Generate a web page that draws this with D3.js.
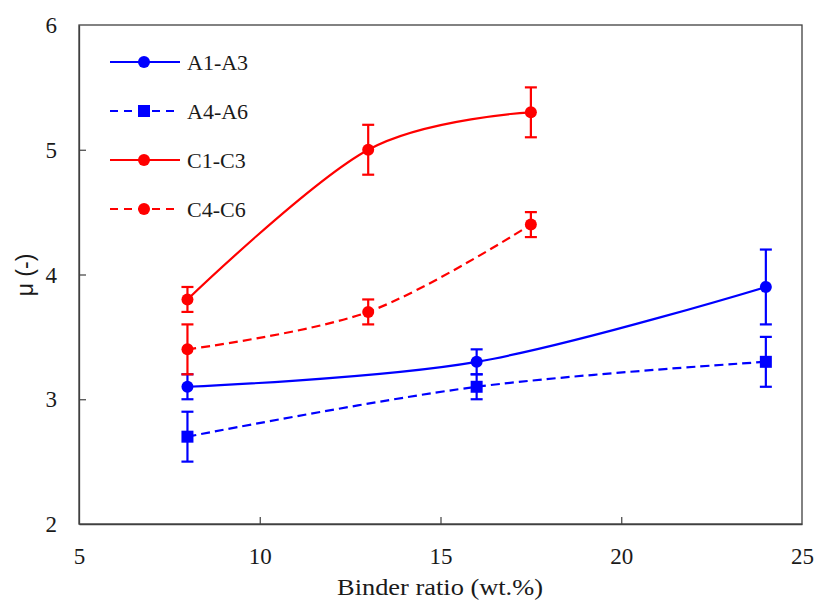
<!DOCTYPE html>
<html>
<head>
<meta charset="utf-8">
<script src="https://cdn.jsdelivr.net/npm/d3@7"></script>
<style>
body{margin:0;background:#fff;}
svg{display:block;}
.serif{font-family:"Liberation Serif","Times New Roman","DejaVu Serif",serif !important;}
</style>
</head>
<body>
<svg id="chart" width="818" height="605"></svg>
<script>
const xTicks = [5, 10, 15, 20, 25];
const yTicks = [2, 3, 4, 5, 6];
const seriesNames = ["A1-A3", "A4-A6", "C1-C3", "C4-C6"];
const seriesColors = ["#0000ff", "#0000ff", "#ff0000", "#ff0000"];
const seriesDashed = [false, true, false, true];
const seriesMarkers = ["circle", "square", "circle", "circle"];
const xA = [8, 16, 24];
const xC = [8, 13, 17.5];
const yA1 = [3.1, 3.3, 3.9];
const eA1 = [0.1, 0.1, 0.3];
const yA4 = [2.7, 3.1, 3.3];
const eA4 = [0.2, 0.1, 0.2];
const yC1 = [3.8, 5.0, 5.3];
const eC1 = [0.1, 0.2, 0.2];
const yC4 = [3.4, 3.7, 4.4];
const eC4 = [0.2, 0.1, 0.1];

const seriesX = [xA, xA, xC, xC];
const seriesY = [yA1, yA4, yC1, yC4];
const seriesE = [eA1, eA4, eC1, eC4];

const svg = d3.select("#chart");
const mL = 79, mR = 802, mT = 25, mB = 524;
const x = d3.scaleLinear().domain([5, 25]).range([mL, mR]);
const y = d3.scaleLinear().domain([2, 6]).range([mB, mT]);

// frame
svg.append("rect").attr("x", mL).attr("y", mT).attr("width", mR - mL).attr("height", mB - mT)
  .attr("fill", "none").attr("stroke", "#404040").attr("stroke-width", 1.3);

// axes
const xAxis = svg.append("g").attr("transform", `translate(0,${mB})`)
  .call(d3.axisBottom(x).tickValues(xTicks).tickSizeInner(-7).tickSizeOuter(0).tickPadding(20).tickFormat(d3.format("d")));
const yAxis = svg.append("g").attr("transform", `translate(${mL},0)`)
  .call(d3.axisLeft(y).tickValues(yTicks).tickSizeInner(-7).tickSizeOuter(0).tickPadding(20).tickFormat(d3.format("d")));
[xAxis, yAxis].forEach(g => {
  g.attr("font-family", null).attr("font-size", null);
  g.select(".domain").attr("stroke", "#404040").attr("stroke-width", 1.3);
  g.selectAll(".tick line").attr("stroke", "#404040").attr("stroke-width", 1.2);
  g.selectAll(".tick text").attr("class", "serif").style("font-size", "23px").attr("fill", "#1a1a1a");
});
xAxis.selectAll(".tick").filter(d => d === 5 || d === 25).select("line").remove();
yAxis.selectAll(".tick").filter(d => d === 2 || d === 6).select("line").remove();
xAxis.selectAll(".tick text").attr("dy", null).attr("y", 40);
yAxis.selectAll(".tick text").attr("x", -22).attr("dy", "0.33em");

// axis titles
svg.append("text").attr("class", "serif").attr("transform", "translate(440,595) scale(1.1,1)").attr("text-anchor", "middle")
  .style("font-size", "24px").attr("fill", "#1a1a1a").text("Binder ratio (wt.%)");
svg.append("text").attr("transform", "translate(33,275) rotate(-90)").attr("text-anchor", "middle")
  .style("font-family", "\"Liberation Sans\", Arial, sans-serif").style("font-size", "23px").attr("fill", "#1a1a1a").text("μ (-)");

const line = d3.line().x(d => x(d[0])).y(d => y(d[1])).curve(d3.curveCatmullRom.alpha(0));

function marker(g, type, cx, cy, color) {
  if (type === "circle") {
    g.append("circle").attr("cx", cx).attr("cy", cy).attr("r", 6).attr("fill", color);
  } else {
    g.append("rect").attr("x", cx - 6).attr("y", cy - 6).attr("width", 12).attr("height", 12).attr("fill", color);
  }
}

seriesNames.forEach((name, i) => {
  const g = svg.append("g");
  const color = seriesColors[i];
  const pts = seriesX[i].map((xv, j) => [xv, seriesY[i][j]]);
  g.append("path").attr("d", line(pts)).attr("fill", "none").attr("stroke", color).attr("stroke-width", 2.2)
    .attr("stroke-dasharray", seriesDashed[i] ? "9,5" : null);
  pts.forEach((p, j) => {
    const e = seriesE[i][j];
    const cx = x(p[0]);
    const y1 = y(p[1] + e), y2 = y(p[1] - e);
    g.append("line").attr("x1", cx).attr("x2", cx).attr("y1", y1).attr("y2", y2).attr("stroke", color).attr("stroke-width", 2.2);
    [y1, y2].forEach(yy => g.append("line").attr("x1", cx - 6).attr("x2", cx + 6).attr("y1", yy).attr("y2", yy)
      .attr("stroke", color).attr("stroke-width", 2.2));
    marker(g, seriesMarkers[i], cx, y(p[1]), color);
  });
  // legend
  const ly = 62 + i * 49;
  g.append("line").attr("x1", 110).attr("x2", 180).attr("y1", ly).attr("y2", ly).attr("stroke", color).attr("stroke-width", 2.2)
    .attr("stroke-dasharray", seriesDashed[i] ? "8,6" : null);
  marker(g, seriesMarkers[i], 144, ly, color);
  g.append("text").attr("class", "serif").attr("x", 187).attr("y", ly + 8).style("font-size", "22px").attr("fill", "#1a1a1a").text(name);
});
</script>
</body>
</html>
